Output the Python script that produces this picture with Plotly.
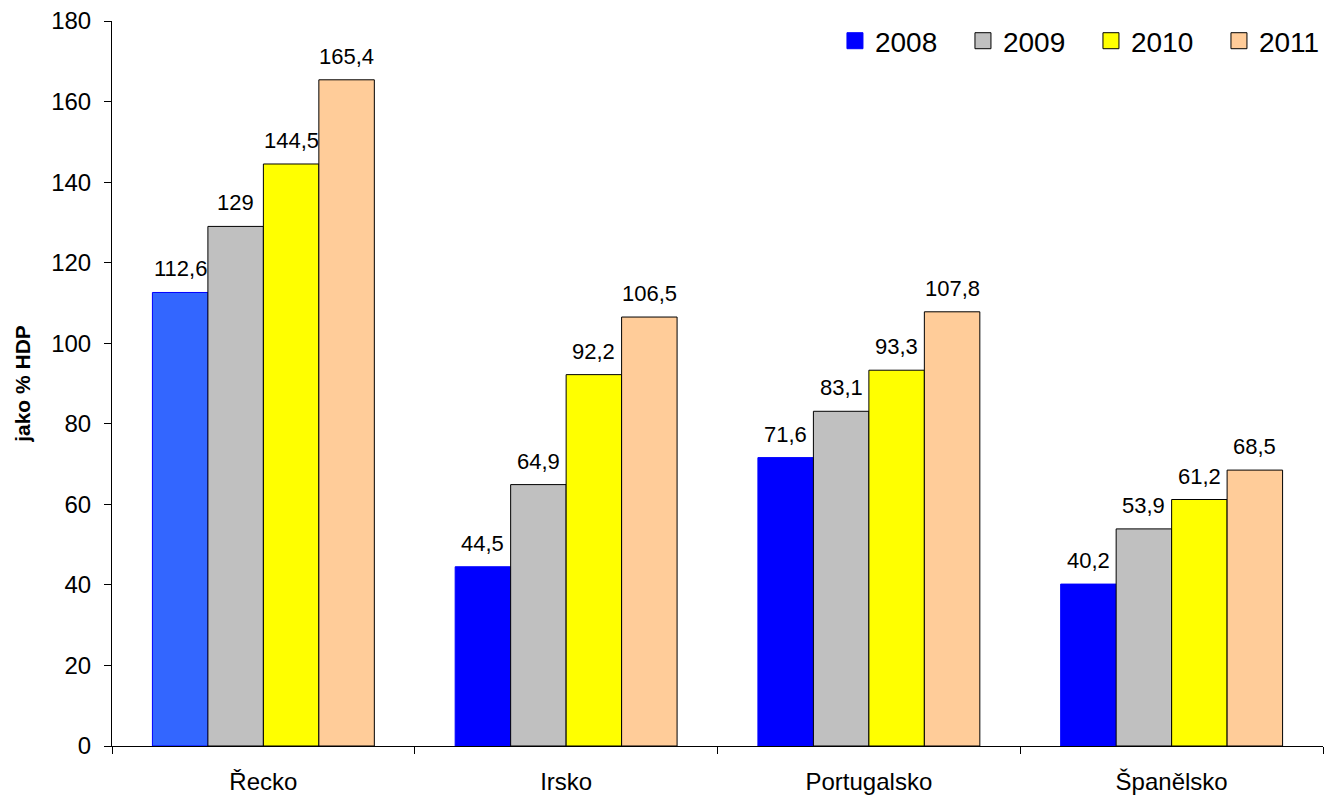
import plotly.graph_objects as go

categories = ["Řecko", "Irsko", "Portugalsko", "Španělsko"]
years = ["2008", "2009", "2010", "2011"]
v2008 = [112.6, 44.5, 71.6, 40.2]
v2009 = [129, 64.9, 83.1, 53.9]
v2010 = [144.5, 92.2, 93.3, 61.2]
v2011 = [165.4, 106.5, 107.8, 68.5]
series = [v2008, v2009, v2010, v2011]

fills = ["#0000FF", "#C0C0C0", "#FFFF00", "#FFCC99"]
lines = ["#0000FF", "#000000", "#000000", "#000000"]

W, H = 1342, 798
ML, MR, MT, MB = 112, 19, 21, 52
BARGAP = 0.267
FONT = "Arial, Liberation Sans, sans-serif"

def fmt(v):
    return ("%g" % v).replace(".", ",")

fig = go.Figure()
for i, (yr, vals) in enumerate(zip(years, series)):
    colors = [fills[i]] * len(vals)
    if i == 0:
        colors[0] = "#3366FF"
    fig.add_trace(go.Bar(
        x=categories, y=vals, name=yr,
        marker=dict(color=colors, line=dict(color=lines[i], width=1)),
        showlegend=False,
    ))
    fig.add_trace(go.Scatter(
        x=[None], y=[None], mode="markers", name=yr,
        marker=dict(symbol="square", size=20, color=fills[i],
                    line=dict(color=lines[i], width=1)),
        showlegend=True,
    ))

# value labels above bars
plot_w = W - ML - MR
cat_w = plot_w / len(categories)
bar_w = cat_w * (1 - BARGAP) / len(series)
for i, vals in enumerate(series):
    for c, v in zip(categories, vals):
        fig.add_annotation(
            x=c, y=v, xref="x", yref="y", text=fmt(v), showarrow=False,
            xanchor="center", yanchor="bottom",
            xshift=(i - (len(series) - 1) / 2) * bar_w, yshift=9,
            font=dict(family=FONT, size=22, color="black"),
        )

fig.update_layout(
    width=W, height=H,
    margin=dict(l=ML, r=MR, t=MT, b=MB, autoexpand=False),
    plot_bgcolor="white", paper_bgcolor="white",
    barmode="group", bargap=BARGAP, bargroupgap=0,
    font=dict(family=FONT, size=24, color="black"),
    legend=dict(orientation="h", x=0.597, xanchor="left", y=0.9724, yanchor="middle",
                font=dict(size=28), bgcolor="rgba(0,0,0,0)",
                entrywidth=83, entrywidthmode="pixels", itemwidth=30),
)
fig.update_xaxes(
    showline=True, linecolor="black", linewidth=1,
    ticks="outside", tickson="boundaries", ticklen=7, tickcolor="black",
    tickfont=dict(size=24), ticklabelstandoff=14, showgrid=False,
)
fig.update_yaxes(
    range=[0, 180], dtick=20, showline=True, linecolor="black", linewidth=1,
    ticks="outside", ticklen=7, tickcolor="black", tickfont=dict(size=24),
    ticklabelstandoff=8, showgrid=False, zeroline=False,
    title=dict(text="<b>jako % HDP</b>", font=dict(size=21), standoff=14),
)
fig.write_html("out.html")
